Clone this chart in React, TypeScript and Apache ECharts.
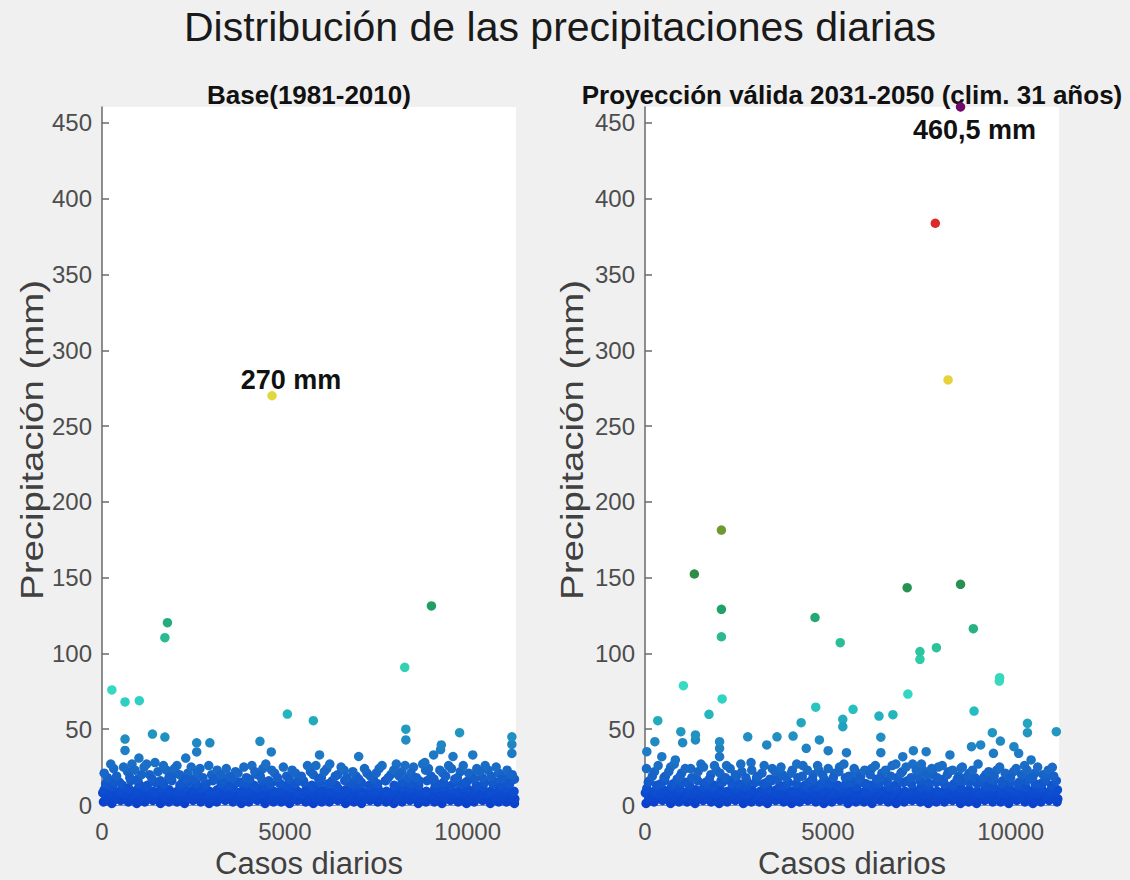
import React, { useEffect, useRef } from "react";
import * as echarts from "echarts";

// ---------- texts ----------
const TITLE = "Distribución de las precipitaciones diarias";
const SUBTITLES = ["Base(1981-2010)", "Proyección válida 2031-2050 (clim. 31 años)"];
const X_NAME = "Casos diarios";
const Y_NAME = "Precipitación (mm)";

// ---------- axes ----------
const X_TICKS = [0, 5000, 10000];
const Y_TICKS = [0, 50, 100, 150, 200, 250, 300, 350, 400, 450];
const X_MAX = 11323;
const Y_MAX = 460.5;

// ---------- Base (1981-2010) ----------
const baseLow1: [number, number][] = [[40,2],[270,1],[510,3],[720,2],[950,1],[1170,2],[1390,3],[1600,1],[1830,2],[2050,2],[2260,1],[2490,3],[2700,2],[2930,1],[3140,2],[3370,3],[3580,2],[3810,1],[4020,2],[4250,3],[4460,1],[4690,2],[4900,2],[5130,1],[5340,3],[5570,2],[5780,1],[6010,2],[6220,2],[6450,3],[6660,1],[6890,2],[7100,1],[7330,3],[7540,2],[7770,2],[7980,1],[8210,2],[8420,3],[8650,1],[8860,2],[9090,2],[9300,1],[9530,3],[9740,2],[9970,1],[10180,2],[10410,3],[10620,1],[10850,2],[11060,2],[11280,1]];
const baseLow2: [number, number][] = [[150,6],[380,5],[600,7],[830,6],[1050,5],[1280,6],[1490,7],[1720,5],[1940,6],[2150,6],[2380,5],[2590,7],[2820,6],[3030,5],[3260,6],[3470,7],[3700,6],[3910,5],[4140,6],[4350,7],[4580,5],[4790,6],[5020,6],[5230,5],[5460,7],[5670,6],[5900,5],[6110,6],[6340,6],[6550,7],[6780,5],[6990,6],[7220,5],[7430,7],[7660,6],[7870,6],[8100,5],[8310,6],[8540,7],[8750,5],[8980,6],[9190,6],[9420,5],[9630,7],[9860,6],[10070,5],[10300,6],[10510,7],[10740,5],[10950,6],[11180,6]];
const baseLow3: [number, number][] = [[60,10],[290,12],[500,9],[730,11],[960,10],[1180,12],[1400,9],[1610,11],[1840,10],[2060,9],[2270,12],[2500,10],[2710,11],[2940,9],[3150,10],[3380,12],[3590,11],[3820,9],[4030,10],[4260,11],[4470,12],[4700,9],[4910,10],[5140,11],[5350,9],[5580,10],[5790,12],[6020,10],[6230,9],[6460,11],[6670,10],[6900,12],[7110,9],[7340,10],[7550,11],[7780,9],[7990,10],[8220,12],[8430,11],[8660,10],[8870,9],[9100,11],[9310,12],[9540,10],[9750,9],[9980,11],[10190,10],[10420,12],[10630,9],[10860,10],[11070,11],[11270,9]];
const baseLow4: [number, number][] = [[100,14],[330,15],[560,13],[790,16],[1010,14],[1240,13],[1460,15],[1690,14],[1910,16],[2130,13],[2360,15],[2580,14],[2810,13],[3030,16],[3260,14],[3480,13],[3710,15],[3930,14],[4160,13],[4380,16],[4610,14],[4830,15],[5060,13],[5290,14],[5510,16],[5740,13],[5960,15],[6190,14],[6410,13],[6640,16],[6860,14],[7090,15],[7310,13],[7540,14],[7760,16],[7990,13],[8210,15],[8440,14],[8660,13],[8890,16],[9110,14],[9340,15],[9560,13],[9790,14],[10010,16],[10240,13],[10460,15],[10690,14],[10910,13],[11140,15]];
const baseLow5: [number, number][] = [[110,4],[340,3.5],[560,4],[780,4.5],[1010,3.5],[1230,4],[1450,4.5],[1660,4],[1890,3.5],[2100,4],[2320,4.5],[2540,4],[2760,3.5],[2980,4],[3200,4.5],[3420,4],[3640,3.5],[3860,4],[4080,4.5],[4300,4],[4520,3.5],[4740,4],[4960,4.5],[5180,4],[5400,3.5],[5620,4],[5840,4.5],[6060,4],[6280,3.5],[6500,4],[6720,4.5],[6940,4],[7160,3.5],[7380,4],[7600,4.5],[7820,4],[8040,3.5],[8260,4],[8480,4.5],[8700,4],[8920,3.5],[9140,4],[9360,4.5],[9580,4],[9800,3.5],[10020,4],[10240,4.5],[10460,4],[10680,3.5],[10900,4],[11120,4.5],[11290,4]];
const baseLow6: [number, number][] = [[20,8],[230,7.5],[450,8.5],[670,8],[890,7.5],[1110,8],[1330,8.5],[1550,8],[1770,7.5],[1990,8],[2210,8.5],[2430,8],[2650,7.5],[2870,8],[3090,8.5],[3310,8],[3530,7.5],[3750,8],[3970,8.5],[4190,8],[4410,7.5],[4630,8],[4850,8.5],[5070,8],[5290,7.5],[5510,8],[5730,8.5],[5950,8],[6170,7.5],[6390,8],[6610,8.5],[6830,8],[7050,7.5],[7270,8],[7490,8.5],[7710,8],[7930,7.5],[8150,8],[8370,8.5],[8590,8],[8810,7.5],[9030,8],[9250,8.5],[9470,8],[9690,7.5],[9910,8],[10130,8.5],[10350,8],[10570,7.5],[10790,8],[11010,8.5],[11230,8]];
const baseMid: [number, number][] = [[150,18],[320,24],[480,15],[700,22],[820,27],[980,17],[1150,25],[1300,20],[1450,28],[1600,16],[1760,23],[1900,19],[2050,26],[2200,15],[2350,21],[2520,17],[2680,24],[2850,14],[3000,20],[3150,23],[3320,16],[3480,19],[3650,22],[3800,15],[3950,18],[4100,26],[4250,20],[4400,24],[4560,16],[4720,21],[4880,14],[5050,19],[5200,23],[5380,17],[5520,15],[5700,22],[5850,26],[6000,18],[6150,24],[6300,16],[6450,20],[6620,23],[6780,15],[6950,19],[7100,14],[7250,21],[7420,17],[7580,24],[7750,16],[7900,20],[8050,27],[8200,22],[8380,18],[8520,25],[8680,16],[8850,23],[9000,19],[9150,14],[9320,21],[9480,26],[9650,17],[9800,22],[9950,15],[10100,20],[10250,24],[10400,18],[10560,23],[10700,16],[10850,21],[11000,19],[11150,14],[11280,17]];
const baseMid2: [number, number][] = [[60,21],[240,27],[400,19],[590,25],[760,18],[900,23],[1080,20],[1220,27],[1370,17],[1530,22],[1680,26],[1830,18],[1980,24],[2120,20],[2290,17],[2440,25],[2600,21],[2760,18],[2920,26],[3080,17],[3240,20],[3400,24],[3560,18],[3720,21],[3880,25],[4040,17],[4180,22],[4330,19],[4480,27],[4640,23],[4800,18],[4960,25],[5120,17],[5290,21],[5450,19],[5620,26],[5780,20],[5930,17],[6080,22],[6230,27],[6380,19],[6540,25],[6700,18],[6860,22],[7020,17],[7180,24],[7340,19],[7500,21],[7660,26],[7830,18],[7980,23],[8130,19],[8290,26],[8450,21],[8600,18],[8770,27],[8930,24],[9080,17],[9240,23],[9400,19],[9560,24],[9720,18],[9880,26],[10030,21],[10180,17],[10330,22],[10480,26],[10640,19],[10780,25],[10930,17],[11080,23],[11220,20]];
const baseHigh: [number, number][] = [[630,43.5],[630,36],[1010,31],[2290,31],[2590,41],[2590,35],[2950,41],[4320,42],[4630,35],[5950,33],[7020,32],[8830,28],[9070,33],[9260,36.6],[9280,39.6],[9600,32],[10140,33],[11210,40],[11210,34],[11210,45],[1380,46.8],[1720,44.8],[8310,50],[8310,42.9],[9780,47.7],[5780,55.6],[5070,60],[630,68],[1020,68.8],[270,75.9],[8280,90.8],[1720,110.4],[1790,120.3],[9010,131.3]];
const baseMax: [number, number] = [4650, 270];
const baseMaxLabel = "270 mm";

// ---------- Proyección 2031-2050 ----------
const projLow1: [number, number][] = [[30,1],[250,2],[480,3],[700,1],[930,2],[1150,2],[1370,1],[1590,3],[1810,2],[2030,1],[2250,2],[2470,3],[2690,1],[2910,2],[3130,2],[3350,1],[3570,3],[3790,2],[4010,1],[4230,2],[4450,3],[4670,2],[4890,1],[5110,2],[5330,3],[5550,1],[5770,2],[5990,2],[6210,1],[6430,3],[6650,2],[6870,1],[7090,2],[7310,3],[7530,2],[7750,1],[7970,2],[8190,2],[8410,3],[8630,1],[8850,2],[9070,1],[9290,3],[9510,2],[9730,2],[9950,1],[10170,3],[10390,2],[10610,1],[10830,2],[11050,3],[11270,2]];
const projLow2: [number, number][] = [[140,5],[360,7],[590,6],[810,6],[1040,5],[1260,7],[1480,6],[1700,5],[1920,7],[2140,6],[2360,6],[2580,5],[2800,7],[3020,6],[3240,5],[3460,6],[3680,7],[3900,6],[4120,5],[4340,7],[4560,6],[4780,5],[5000,6],[5220,7],[5440,6],[5660,5],[5880,7],[6100,6],[6320,5],[6540,6],[6760,7],[6980,6],[7200,5],[7420,6],[7640,7],[7860,5],[8080,6],[8300,7],[8520,6],[8740,5],[8960,6],[9180,7],[9400,6],[9620,5],[9840,7],[10060,6],[10280,5],[10500,6],[10720,7],[10940,6],[11160,5]];
const projLow3: [number, number][] = [[50,11],[270,9],[500,10],[720,12],[950,11],[1170,9],[1390,10],[1610,12],[1830,11],[2050,10],[2270,9],[2490,11],[2710,12],[2930,10],[3150,9],[3370,11],[3590,10],[3810,12],[4030,9],[4250,10],[4470,11],[4690,12],[4910,10],[5130,9],[5350,11],[5570,10],[5790,12],[6010,9],[6230,11],[6450,10],[6670,12],[6890,11],[7110,9],[7330,10],[7550,12],[7770,11],[7990,9],[8210,10],[8430,12],[8650,11],[8870,10],[9090,9],[9310,11],[9530,12],[9750,10],[9970,11],[10190,9],[10410,12],[10630,10],[10850,11],[11070,9],[11280,10]];
const projLow4: [number, number][] = [[90,15],[320,13],[540,16],[770,14],[990,15],[1220,13],[1440,16],[1670,14],[1890,13],[2120,15],[2340,16],[2570,14],[2790,13],[3020,15],[3240,14],[3470,16],[3690,13],[3920,15],[4140,14],[4370,13],[4590,16],[4820,14],[5040,15],[5270,13],[5490,14],[5720,16],[5940,15],[6170,13],[6390,14],[6620,16],[6840,13],[7070,15],[7290,14],[7520,16],[7740,13],[7970,15],[8190,14],[8420,13],[8640,16],[8870,15],[9090,14],[9320,13],[9540,16],[9770,14],[9990,15],[10220,13],[10440,16],[10670,14],[10890,15],[11120,13]];
const projLow5: [number, number][] = [[100,3.5],[320,4],[540,4.5],[760,4],[980,3.5],[1200,4],[1420,4.5],[1640,4],[1860,3.5],[2080,4],[2300,4.5],[2520,4],[2740,3.5],[2960,4],[3180,4.5],[3400,4],[3620,3.5],[3840,4],[4060,4.5],[4280,4],[4500,3.5],[4720,4],[4940,4.5],[5160,4],[5380,3.5],[5600,4],[5820,4.5],[6040,4],[6260,3.5],[6480,4],[6700,4.5],[6920,4],[7140,3.5],[7360,4],[7580,4.5],[7800,4],[8020,3.5],[8240,4],[8460,4.5],[8680,4],[8900,3.5],[9120,4],[9340,4.5],[9560,4],[9780,3.5],[10000,4],[10220,4.5],[10440,4],[10660,3.5],[10880,4],[11100,4.5],[11290,4]];
const projLow6: [number, number][] = [[10,8],[220,8.5],[440,7.5],[660,8],[880,8.5],[1100,7.5],[1320,8],[1540,8.5],[1760,7.5],[1980,8],[2200,8.5],[2420,7.5],[2640,8],[2860,8.5],[3080,7.5],[3300,8],[3520,8.5],[3740,7.5],[3960,8],[4180,8.5],[4400,7.5],[4620,8],[4840,8.5],[5060,7.5],[5280,8],[5500,8.5],[5720,7.5],[5940,8],[6160,8.5],[6380,7.5],[6600,8],[6820,8.5],[7040,7.5],[7260,8],[7480,8.5],[7700,7.5],[7920,8],[8140,8.5],[8360,7.5],[8580,8],[8800,8.5],[9020,7.5],[9240,8],[9460,8.5],[9680,7.5],[9900,8],[10120,8.5],[10340,7.5],[10560,8],[10780,8.5],[11000,7.5],[11220,8]];
const projMid: [number, number][] = [[120,16],[260,22],[430,14],[560,19],[700,25],[880,17],[1000,21],[1120,15],[1250,24],[1400,18],[1530,27],[1660,15],[1800,20],[1950,23],[2080,16],[2230,26],[2380,14],[2500,19],[2650,22],[2780,16],[2900,28],[3050,18],[3200,21],[3330,15],[3480,24],[3620,17],[3760,20],[3900,14],[4030,23],[4180,18],[4320,26],[4480,15],[4600,20],[4750,23],[4900,17],[5050,14],[5190,21],[5320,25],[5480,18],[5620,15],[5760,22],[5900,19],[6050,14],[6200,24],[6330,17],[6480,21],[6620,15],[6760,26],[6900,18],[7040,22],[7180,16],[7320,27],[7460,19],[7600,23],[7740,15],[7880,20],[8020,25],[8160,17],[8300,22],[8450,14],[8580,19],[8720,16],[8870,21],[9020,18],[9170,15],[9320,20],[9470,17],[9620,23],[9780,16],[9930,19],[10080,22],[10230,15],[10380,26],[10520,18],[10670,21],[10820,14],[10960,17],[11100,20],[11250,16]];
const projMid2: [number, number][] = [[40,24],[200,19],[360,26],[520,18],[650,22],[800,27],[960,19],[1100,24],[1280,18],[1450,22],[1600,25],[1760,17],[1900,26],[2050,21],[2200,18],[2330,24],[2470,20],[2620,27],[2760,18],[2920,23],[3090,19],[3260,26],[3420,17],[3560,22],[3720,25],[3860,18],[4000,21],[4150,27],[4300,19],[4440,23],[4580,17],[4720,26],[4860,20],[5010,24],[5150,18],[5300,22],[5440,27],[5580,19],[5720,24],[5860,17],[6010,23],[6160,20],[6300,26],[6450,18],[6580,23],[6720,19],[6860,27],[7000,21],[7140,25],[7280,18],[7420,23],[7560,27],[7700,20],[7840,24],[7990,18],[8130,26],[8270,20],[8410,23],[8540,17],[8680,25],[8820,19],[8960,23],[9110,27],[9260,18],[9400,22],[9550,19],[9700,25],[9850,21],[10000,18],[10150,24],[10300,20],[10450,23],[10600,18],[10740,25],[10890,20],[11030,23],[11180,19]];
const projHigh: [number, number][] = [[50,35.2],[270,41.8],[460,31.9],[830,29.7],[1030,41.1],[1380,42.9],[2040,37.4],[2040,31.9],[3330,39.6],[4410,37.4],[5010,35.8],[5510,34.5],[6450,34.5],[7050,31.9],[7340,35.8],[7690,35.2],[8340,33],[8640,24.2],[8930,38.5],[9180,39.6],[9530,34.1],[10090,38.5],[10220,34.1],[10560,29.7],[11140,24.9],[980,48.4],[1380,46.2],[2040,41.8],[2810,45],[3610,45],[4050,45.5],[4770,42.9],[6450,44.7],[9500,47.7],[9720,42.2],[10460,47.7],[11250,48.4],[350,55.6],[1750,59.8],[4270,54.3],[5410,56.5],[5410,51.7],[10460,53.9],[6400,58.7],[6780,59.6],[9000,62],[5690,63.1],[4670,64.5],[2110,70],[7190,73.2],[1050,78.7],[9690,81.8],[9700,84],[7520,96.1],[7520,101.2],[7970,103.8],[5340,107.1],[2090,111],[8980,116.3],[4650,123.7],[2090,129.1],[7170,143.4],[8630,145.6],[1350,152.4],[2090,181.4],[8290,280.4],[7940,383.8]];
const projMax: [number, number] = [8630, 460.5];
const projMaxLabel = "460,5 mm";

// ---------- style ----------
const FONT = "'Liberation Sans', Arial, Helvetica, sans-serif";
const BG = "#f0f0f0";
const COLOR_STOPS: [number, string][] = [
  [0, "#0a3fcc"], [10, "#0d4ed0"], [20, "#1764c8"], [35, "#1f7cc4"], [48, "#2296c0"],
  [58, "#22b0bc"], [70, "#30d4c4"], [80, "#38dcc0"], [92, "#30d0b0"], [112, "#2ab88e"],
  [130, "#20a064"], [150, "#2a8c4a"], [181, "#6c9a30"], [230, "#b8c030"], [275, "#e6dc3a"],
  [330, "#e88030"], [384, "#dc2a2a"], [460.5, "#6e0a6a"],
];

function hexToRgb(h: string) {
  return [parseInt(h.slice(1, 3), 16), parseInt(h.slice(3, 5), 16), parseInt(h.slice(5, 7), 16)];
}
function colorFor(v: number): string {
  if (v <= COLOR_STOPS[0][0]) return COLOR_STOPS[0][1];
  for (let i = 1; i < COLOR_STOPS.length; i++) {
    const [v1, c1] = COLOR_STOPS[i];
    if (v <= v1) {
      const [v0, c0] = COLOR_STOPS[i - 1];
      const t = (v - v0) / (v1 - v0);
      const a = hexToRgb(c0), b = hexToRgb(c1);
      const m = a.map((x, k) => Math.round(x + (b[k] - x) * t));
      return `rgb(${m[0]},${m[1]},${m[2]})`;
    }
  }
  return COLOR_STOPS[COLOR_STOPS.length - 1][1];
}

const GRIDS = [
  { left: 102, top: 107, width: 414, height: 698 },
  { left: 645, top: 107, width: 414, height: 698 },
];

function makeAxes(i: number) {
  const x = {
    type: "value", gridIndex: i, min: 0, max: X_MAX,
    name: X_NAME, nameLocation: "middle", nameGap: 41,
    nameTextStyle: { fontSize: 31, color: "#404040", fontFamily: FONT },
    axisLine: { show: true, lineStyle: { color: "#8090c0", width: 1 } },
    axisTick: { show: false },
    axisLabel: { customValues: X_TICKS, formatter: (v: number) => String(v), fontSize: 24, color: "#4d4d4d", fontFamily: FONT, margin: 14 },
    splitLine: { show: false },
  };
  const y = {
    type: "value", gridIndex: i, min: 0, max: Y_MAX,
    axisLine: { show: true, lineStyle: { color: "#6a6a6a", width: 1.5 } },
    axisTick: { show: true, inside: true, length: 7, customValues: Y_TICKS, lineStyle: { color: "#6a6a6a", width: 1.5 } },
    axisLabel: { customValues: Y_TICKS, formatter: (v: number) => String(v), fontSize: 24, color: "#4d4d4d", fontFamily: FONT, margin: 10 },
    splitLine: { show: false },
  };
  return { x, y };
}

const labelStyle = { fontSize: 27, fontWeight: "bold", color: "#111", fontFamily: FONT };

function makeSeries(i: number, groups: [number, number][][], maxPt: [number, number], maxLabel: string, pos: string, offset: number[]) {
  const data: any[] = [];
  groups.forEach((g) => g.forEach((p) => data.push(p)));
  data.push({
    value: maxPt,
    label: { show: true, formatter: maxLabel, position: pos, offset, ...labelStyle },
  });
  return {
    type: "scatter", xAxisIndex: i, yAxisIndex: i, symbolSize: 9.5, clip: false,
    data,
    itemStyle: { color: (p: any) => colorFor(p.value[1]), opacity: 1 },
    emphasis: { disabled: true },
  };
}

export default function App() {
  const ref = useRef<HTMLDivElement>(null);
  useEffect(() => {
    document.body.style.margin = "0";
    document.body.style.background = BG;
    const chart = echarts.init(ref.current!, null, { renderer: "svg" });
    const a0 = makeAxes(0), a1 = makeAxes(1);
    const yNameText = (cx: number) => ({
      type: "text", x: cx, y: 440, rotation: Math.PI / 2, scaleX: 1.2,
      style: { text: Y_NAME, fontSize: 32, fontFamily: FONT, fill: "#404040", textAlign: "center", textVerticalAlign: "middle" },
    });
    chart.setOption({
      animation: false,
      backgroundColor: BG,
      grid: GRIDS.map((g) => ({ ...g, show: true, backgroundColor: "#ffffff", borderWidth: 0, outerBoundsMode: "none", containLabel: false })),
      xAxis: [a0.x, a1.x],
      yAxis: [a0.y, a1.y],
      series: [
        makeSeries(0, [baseLow1, baseLow5, baseLow2, baseLow6, baseLow3, baseLow4, baseMid, baseMid2, baseHigh], baseMax, baseMaxLabel, "top", [19, 8]),
        makeSeries(1, [projLow1, projLow5, projLow2, projLow6, projLow3, projLow4, projMid, projMid2, projHigh], projMax, projMaxLabel, "bottom", [14, 0]),
      ],
      graphic: [
        { type: "text", x: 560, y: 27, style: { text: TITLE, fontSize: 41, fontFamily: FONT, fill: "#1a1a1a", textAlign: "center", textVerticalAlign: "middle" } },
        { type: "text", x: 309, y: 95, style: { text: SUBTITLES[0], fontSize: 26, fontWeight: "bold", fontFamily: FONT, fill: "#111", textAlign: "center", textVerticalAlign: "middle" } },
        { type: "text", x: 852, y: 95, style: { text: SUBTITLES[1], fontSize: 26, fontWeight: "bold", fontFamily: FONT, fill: "#111", textAlign: "center", textVerticalAlign: "middle" } },
        yNameText(32),
        yNameText(572),
      ],
    });
    return () => chart.dispose();
  }, []);
  return <div ref={ref} style={{ width: 1130, height: 880 }} />;
}
